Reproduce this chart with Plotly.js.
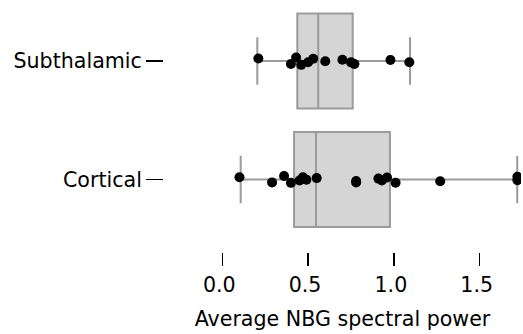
<!DOCTYPE html>
<html>
<head>
<meta charset="utf-8">
<script src="https://cdn.plot.ly/plotly-3.0.1.min.js"></script>
<style>html,body{margin:0;padding:0;background:#fff;}#chart{width:523px;height:334px;}</style>
</head>
<body>
<div id="chart"></div>
<script>
// Categories (bottom to top)
const categories = ['Cortical', 'Subthalamic'];

// Sample values
const corticalValues = [0.10, 0.29, 0.36, 0.40, 0.45, 0.47, 0.49, 0.55, 0.78, 0.78, 0.91, 0.93, 0.96, 1.01, 1.27, 1.72, 1.72];
const subthalamicValues = [0.21, 0.40, 0.43, 0.46, 0.50, 0.53, 0.60, 0.70, 0.75, 0.77, 0.98, 1.09];

// Box statistics (Cortical, Subthalamic)
const q1Values = [0.418, 0.437];
const medianValues = [0.546, 0.559];
const q3Values = [0.977, 0.760];
const lowerWhisker = [0.107, 0.204];
const upperWhisker = [1.719, 1.094];

// Axis ticks
const xTickValues = [0, 0.5, 1.0, 1.5];
const xTitle = 'Average NBG spectral power';

const FONT = 'DejaVu Sans, sans-serif';
const FS = 20.6;
const boxLine = '#9b9b9b';
const boxFill = '#d5d5d5';

const sampleSets = [corticalValues, subthalamicValues];
const traces = [];

// Box bodies from the statistics
traces.push({
  type: 'box',
  orientation: 'h',
  y: categories.map((c, i) => i),
  q1: q1Values,
  median: medianValues,
  q3: q3Values,
  lowerfence: lowerWhisker,
  upperfence: upperWhisker,
  width: 0.8,
  whiskerwidth: 0.5,
  fillcolor: boxFill,
  line: {color: boxLine, width: 2},
  boxpoints: false,
  hoverinfo: 'skip',
  showlegend: false
});

// Sample points (box trace used only for its jittered points)
sampleSets.forEach((vals, i) => {
  traces.push({
    type: 'box',
    orientation: 'h',
    x: vals,
    y: vals.map(() => i),
    width: 0.8,
    boxpoints: 'all',
    jitter: 0.1,
    pointpos: 0,
    fillcolor: 'rgba(0,0,0,0)',
    line: {color: 'rgba(0,0,0,0)', width: 0},
    marker: {color: '#000000', size: 10, line: {width: 0}},
    hoverinfo: 'x',
    showlegend: false
  });
});

const layout = {
  width: 523,
  height: 334,
  margin: {l: 164, r: 2, t: 2, b: 82},
  paper_bgcolor: '#ffffff',
  plot_bgcolor: '#ffffff',
  showlegend: false,
  boxmode: 'overlay',
  font: {family: FONT, size: FS, color: '#000000'},
  xaxis: {
    range: [-0.340, 1.741],
    tickvals: xTickValues,
    ticktext: xTickValues.map(v => v.toFixed(1)),
    ticks: 'outside',
    ticklen: 13,
    tickwidth: 1.5,
    tickcolor: '#000000',
    ticklabelshift: -3,
    ticklabelstandoff: 1,
    showgrid: false,
    zeroline: false,
    showline: false,
    tickfont: {family: FONT, size: FS, color: '#000000'},
    title: {text: xTitle, font: {family: FONT, size: FS, color: '#000000'}, standoff: 15}
  },
  yaxis: {
    range: [-0.612, 1.498],
    tickvals: categories.map((c, i) => i),
    ticktext: categories,
    ticks: 'outside',
    ticklen: 17,
    tickwidth: 1.5,
    tickcolor: '#000000',
    showgrid: false,
    zeroline: false,
    showline: false,
    tickfont: {family: FONT, size: FS, color: '#000000'}
  }
};

Plotly.newPlot('chart', traces, layout, {displayModeBar: false, staticPlot: true});
</script>
</body>
</html>
